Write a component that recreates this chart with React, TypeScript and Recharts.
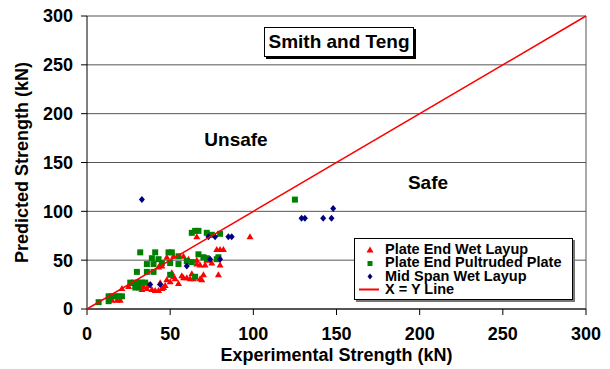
import React from "react";
import {
  CartesianGrid,
  Label,
  ReferenceLine,
  Scatter,
  ScatterChart,
  XAxis,
  YAxis,
} from "recharts";

const axisTicks = [0, 50, 100, 150, 200, 250, 300];

// [experimental, predicted] in kN
const plateEndWetLayup: [number, number][] = [
  [15, 9], [18, 9], [20, 9], [21, 21], [25, 23], [27, 26], [30, 22],
  [31, 28], [33, 20], [34, 23], [36, 21], [37, 24], [39, 20], [41, 19],
  [43, 19], [44, 27], [45, 21], [46, 22], [47, 24], [48, 30], [50, 28],
  [51, 37], [52, 33], [53, 31], [55, 26], [57, 34], [58, 32], [60, 32],
  [62, 31], [64, 31], [63, 36], [43, 43], [45, 44], [48, 53], [52, 54],
  [58, 54], [61, 51], [66, 46], [68, 45], [66, 50], [68, 31], [69, 30],
  [70, 35], [71, 45], [72, 50], [75, 47], [66, 74], [78, 61], [80, 61],
  [82, 61], [79, 35], [80, 45], [98, 74],
];

const plateEndPultruded: [number, number][] = [
  [7, 7], [13, 13], [13, 8], [15, 13], [17, 13], [19, 13], [21, 13],
  [26, 27], [28, 27], [31, 27], [33, 27], [35, 27], [29, 22], [31, 22],
  [30, 38], [36, 38], [40, 38], [32, 58], [41, 58], [49, 58], [51, 58],
  [39, 52], [43, 51], [36, 46], [40, 46], [45, 47], [50, 47], [55, 54],
  [55, 46], [50, 35], [65, 33], [63, 78], [65, 80], [67, 80], [72, 78],
  [75, 76], [80, 77], [67, 56], [70, 53], [72, 52], [79, 53], [78, 51],
  [63, 48], [60, 49], [125, 112],
];

const midSpanWetLayup: [number, number][] = [
  [33, 112], [38, 25], [44, 25], [60, 44], [73, 74], [77, 74], [85, 74],
  [87, 74], [74, 51], [80, 51], [129, 93], [131, 93], [142, 93], [147, 93],
  [148, 103],
];

const xyLine: [number, number][] = [
  [0, 0],
  [300, 300],
];

const toPoints = (pairs: [number, number][]) =>
  pairs.map(([x, y]) => ({ x, y }));

const RED = "#FF0000";
const GREEN = "#008000";
const NAVY = "#000080";
const FONT = '"Liberation Sans", Arial, sans-serif';

type ShapeProps = { cx?: number; cy?: number };

const TriangleMark = ({ cx = 0, cy = 0 }: ShapeProps) => (
  <polygon
    points={`${cx},${cy - 3.5} ${cx + 3.5},${cy + 2.5} ${cx - 3.5},${cy + 2.5}`}
    fill={RED}
  />
);

const SquareMark = ({ cx = 0, cy = 0 }: ShapeProps) => (
  <rect x={cx - 3} y={cy - 3} width={6} height={6} fill={GREEN} />
);

const DiamondMark = ({ cx = 0, cy = 0 }: ShapeProps) => (
  <polygon
    points={`${cx},${cy - 3.5} ${cx + 3},${cy} ${cx},${cy + 3.5} ${cx - 3},${cy}`}
    fill={NAVY}
  />
);

const legendItems = [
  { name: "Plate End Wet Layup", mark: "triangle" },
  { name: "Plate End Pultruded Plate", mark: "square" },
  { name: "Mid Span Wet Layup", mark: "diamond" },
  { name: "X = Y Line", mark: "line" },
];

function LegendIcon({ mark }: { mark: string }) {
  return (
    <svg width={22} height={13} style={{ display: "block" }}>
      {mark === "triangle" && <TriangleMark cx={11} cy={7} />}
      {mark === "square" && (
        <rect x={8.5} y={4} width={5} height={5} fill={GREEN} />
      )}
      {mark === "diamond" && (
        <polygon points="11,3.5 13.5,6.5 11,9.5 8.5,6.5" fill={NAVY} />
      )}
      {mark === "line" && (
        <line x1={0} x2={20} y1={6.5} y2={6.5} stroke={RED} strokeWidth={2} />
      )}
    </svg>
  );
}

const tickStyle = { fontSize: 18, fontWeight: "bold", fill: "#000" };
const titleStyle = {
  fontSize: 18,
  fontWeight: "bold",
  fill: "#000",
  textAnchor: "middle" as const,
};

export default function App() {
  return (
    // pulled up and left over the body margin so the chart fills the window
    <div
      style={{
        position: "relative",
        width: 610,
        height: 369,
        marginTop: -8,
        marginLeft: -8,
        fontFamily: FONT,
      }}
    >
      <ScatterChart
        width={610}
        height={369}
        margin={{ top: 16, right: 24, bottom: 30, left: 47 }}
        style={{ fontFamily: FONT }}
      >
        <CartesianGrid vertical={false} stroke="#555" strokeOpacity={1} />
        <XAxis
          type="number"
          dataKey="x"
          domain={[0, 300]}
          ticks={axisTicks}
          tickSize={6}
          tickMargin={12}
          height={30}
          stroke="#000"
          tick={tickStyle}
          interval={0}
        >
          <Label
            value="Experimental Strength (kN)"
            position="bottom"
            offset={9}
            style={titleStyle}
          />
        </XAxis>
        <YAxis
          type="number"
          dataKey="y"
          domain={[0, 300]}
          ticks={axisTicks}
          tickSize={6}
          tickMargin={8}
          width={40}
          stroke="#000"
          tick={tickStyle}
          interval={0}
        >
          <Label
            value="Predicted Strength (kN)"
            angle={-90}
            position="insideLeft"
            offset={-25}
            style={titleStyle}
          />
        </YAxis>
        <ReferenceLine x={300} stroke="#555" />
        <Scatter
          name="Plate End Wet Layup"
          data={toPoints(plateEndWetLayup)}
          shape={TriangleMark}
          isAnimationActive={false}
        />
        <Scatter
          name="Plate End Pultruded Plate"
          data={toPoints(plateEndPultruded)}
          shape={SquareMark}
          isAnimationActive={false}
        />
        <Scatter
          name="Mid Span Wet Layup"
          data={toPoints(midSpanWetLayup)}
          shape={DiamondMark}
          isAnimationActive={false}
        />
        <Scatter
          name="X = Y Line"
          data={toPoints(xyLine)}
          line={{ stroke: RED, strokeWidth: 1.5 }}
          shape={() => <g />}
          isAnimationActive={false}
        />
      </ScatterChart>

      <div
        style={{
          position: "absolute",
          left: 264,
          top: 27,
          width: 148,
          height: 28,
          border: "1px solid #000",
          boxShadow: "2px 2px 0 #000",
          background: "#fff",
          fontSize: 19,
          fontWeight: "bold",
          lineHeight: "28px",
          textAlign: "center",
        }}
      >
        Smith and Teng
      </div>
      <div
        style={{
          position: "absolute",
          left: 236,
          top: 140,
          transform: "translate(-50%, -50%)",
          fontSize: 19,
          fontWeight: "bold",
        }}
      >
        Unsafe
      </div>
      <div
        style={{
          position: "absolute",
          left: 428,
          top: 183,
          transform: "translate(-50%, -50%)",
          fontSize: 19,
          fontWeight: "bold",
        }}
      >
        Safe
      </div>

      <div
        style={{
          position: "absolute",
          left: 354,
          top: 238,
          width: 217,
          height: 56,
          border: "1px solid #000",
          boxShadow: "2px 2px 0 #777",
          background: "#fff",
          paddingTop: 4,
          boxSizing: "content-box",
        }}
      >
        {legendItems.map((item) => (
          <div
            key={item.name}
            style={{
              display: "flex",
              alignItems: "center",
              height: 13.4,
              fontSize: 14.5,
              lineHeight: "13.4px",
              fontWeight: "bold",
              whiteSpace: "nowrap",
            }}
          >
            <div style={{ width: 26, paddingLeft: 4 }}>
              <LegendIcon mark={item.mark} />
            </div>
            <span>{item.name}</span>
          </div>
        ))}
      </div>
    </div>
  );
}
